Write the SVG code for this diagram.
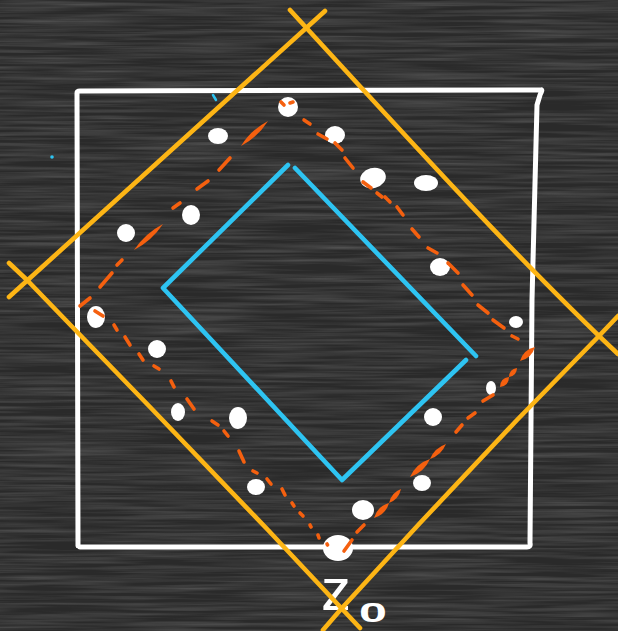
<svg xmlns="http://www.w3.org/2000/svg" width="618" height="631" viewBox="0 0 618 631">
<defs>
<filter id="chalk" x="0" y="0" width="100%" height="100%">
<feTurbulence type="fractalNoise" baseFrequency="0.008 0.3" numOctaves="3" seed="3"/>
<feColorMatrix type="matrix" values="0 0 0 0 1  0 0 0 0 1  0 0 0 0 1  0.3 0 0 0 -0.1"/>
</filter>
</defs>
<style>
.wl{fill:none;stroke:#ffffff;stroke-width:5;stroke-linecap:round;stroke-linejoin:round}
.bl{fill:none;stroke:#2ec4f2;stroke-width:4.6;stroke-linecap:round;stroke-linejoin:round}
.yl{fill:none;stroke:#fdb515;stroke-width:4.6;stroke-linecap:round;stroke-linejoin:round}
.od line{stroke:#f5600f;stroke-width:3.6;stroke-linecap:round}
.od path{fill:#f5600f}
.dots ellipse{fill:#ffffff}
.lbl{fill:#ffffff;font-family:"Liberation Sans",Arial,sans-serif}
</style>
<rect width="618" height="631" fill="#2a2a2a"/>
<rect width="618" height="631" filter="url(#chalk)"/>

<g id="label">
<text class="lbl" x="321" y="610" font-size="60">z</text>
<text class="lbl" x="359" y="622" font-size="27" font-weight="bold" textLength="28" lengthAdjust="spacingAndGlyphs">0</text>
</g>

<g id="square">
<path class="wl" d="M78,546 L77,93 Q77,91 80,91 L541,90 M541,90 Q543,89 540,95 L537,105 L532,300 L530,543 Q531,547 527,547 L80,547"/>
</g>

<g id="inner-diamond">
<path class="bl" d="M288,165 L163,288 L342,480 L466,360"/>
<path class="bl" d="M295,168 L476,356"/>
<line x1="213" y1="95" x2="216" y2="100" stroke="#2ec4f2" stroke-width="2.5" stroke-linecap="round"/>
<circle cx="52" cy="157" r="1.8" fill="#2ec4f2"/>
</g>

<g id="white-dots" class="dots">
<ellipse cx="288" cy="107" rx="10" ry="10"/>
<ellipse cx="218" cy="136" rx="10" ry="8"/>
<ellipse cx="335" cy="135" rx="10" ry="9"/>
<ellipse cx="373" cy="178" rx="13" ry="10" transform="rotate(-15 373 178)"/>
<ellipse cx="426" cy="183" rx="12" ry="8"/>
<ellipse cx="191" cy="215" rx="9" ry="10"/>
<ellipse cx="126" cy="233" rx="9" ry="9"/>
<ellipse cx="440" cy="267" rx="10" ry="9"/>
<ellipse cx="96" cy="317" rx="9" ry="11"/>
<ellipse cx="157" cy="349" rx="9" ry="9"/>
<ellipse cx="516" cy="322" rx="7" ry="6"/>
<ellipse cx="178" cy="412" rx="7" ry="9"/>
<ellipse cx="238" cy="418" rx="9" ry="11"/>
<ellipse cx="491" cy="388" rx="5" ry="7"/>
<ellipse cx="433" cy="417" rx="9" ry="9"/>
<ellipse cx="256" cy="487" rx="9" ry="8"/>
<ellipse cx="422" cy="483" rx="9" ry="8"/>
<ellipse cx="363" cy="510" rx="11" ry="10"/>
<ellipse cx="338" cy="548" rx="15" ry="13"/>
</g>

<g id="middle-diamond" class="od">
<line x1="281" y1="102" x2="284" y2="105"/>
<line x1="290" y1="103" x2="293" y2="102"/>
<path d="M268,121 Q251.1,129.8 241,146 Q257.9,137.2 268,121 Z"/>
<line x1="230" y1="158" x2="219" y2="170"/>
<line x1="208" y1="181" x2="197" y2="189"/>
<line x1="180" y1="203" x2="173" y2="208"/>
<path d="M163,224 Q145.2,233.3 134,250 Q151.9,240.8 163,224 Z"/>
<line x1="122" y1="260" x2="117" y2="265"/>
<line x1="112" y1="273" x2="100" y2="287"/>
<line x1="90" y1="298" x2="80" y2="306"/>
<line x1="95" y1="311" x2="103" y2="316"/>
<line x1="114" y1="325" x2="117" y2="330"/>
<line x1="125" y1="337" x2="130" y2="345"/>
<line x1="139" y1="354" x2="143" y2="360"/>
<line x1="154" y1="366" x2="159" y2="369"/>
<line x1="171" y1="381" x2="174" y2="387"/>
<line x1="187" y1="399" x2="194" y2="409"/>
<line x1="212" y1="421" x2="218" y2="425"/>
<line x1="224" y1="431" x2="228" y2="436"/>
<line x1="239" y1="451" x2="244" y2="462"/>
<line x1="253" y1="471" x2="257" y2="473"/>
<line x1="267" y1="479" x2="271" y2="484"/>
<line x1="282" y1="489" x2="285" y2="495"/>
<line x1="292" y1="503" x2="294" y2="506"/>
<line x1="300" y1="513" x2="303" y2="516"/>
<line x1="310" y1="525" x2="311" y2="527"/>
<line x1="318" y1="535" x2="319" y2="538"/>
<line x1="327" y1="544" x2="327.5" y2="545"/>
<line x1="352" y1="540" x2="344" y2="551"/>
<line x1="364" y1="525" x2="357" y2="532"/>
<path d="M401,489 Q391.2,492.7 389,503 Q398.8,499.3 401,489 Z"/>
<path d="M389,503 Q377.3,506.3 374,518 Q385.7,514.7 389,503 Z"/>
<path d="M446,444 Q434.6,447.9 430,459 Q441.4,455.2 446,444 Z"/>
<path d="M430,459 Q416,463.5 410,477 Q424,472.5 430,459 Z"/>
<line x1="462" y1="425" x2="456" y2="432"/>
<line x1="475" y1="413" x2="468" y2="418"/>
<line x1="493" y1="395" x2="483" y2="401"/>
<path d="M517,368 Q509.3,369.2 509,377 Q516.8,375.8 517,368 Z"/>
<path d="M509,377 Q500.1,378 500,387 Q508.9,386 509,377 Z"/>
<path d="M535,347 Q523.4,349.6 520,361 Q531.6,358.4 535,347 Z"/>
<line x1="512" y1="336" x2="518" y2="339"/>
<line x1="493" y1="320" x2="504" y2="328"/>
<line x1="478" y1="305" x2="488" y2="313"/>
<line x1="463" y1="285" x2="472" y2="295"/>
<line x1="448" y1="263" x2="458" y2="273"/>
<line x1="428" y1="248" x2="437" y2="253"/>
<line x1="412" y1="229" x2="419" y2="237"/>
<line x1="397" y1="207" x2="403" y2="215"/>
<line x1="385" y1="197" x2="390" y2="202"/>
<line x1="377" y1="193" x2="382" y2="197"/>
<line x1="363" y1="182" x2="371" y2="188"/>
<line x1="345" y1="158" x2="353" y2="168"/>
<line x1="335" y1="143" x2="342" y2="150"/>
<line x1="318" y1="134" x2="327" y2="139"/>
<line x1="304" y1="120" x2="310" y2="124"/>
</g>

<g id="outer-lines">
<path class="yl" d="M325,11 L9,297"/>
<path class="yl" d="M290,10 C400,130 520,262 618,354"/>
<path class="yl" d="M9,263 L27,280 L83,338 L150,407 L268,530 L360,628"/>
<path class="yl" d="M618,316 L598,337 L517,420 L420,523 L342,608 L323,630"/>
</g>
</svg>
